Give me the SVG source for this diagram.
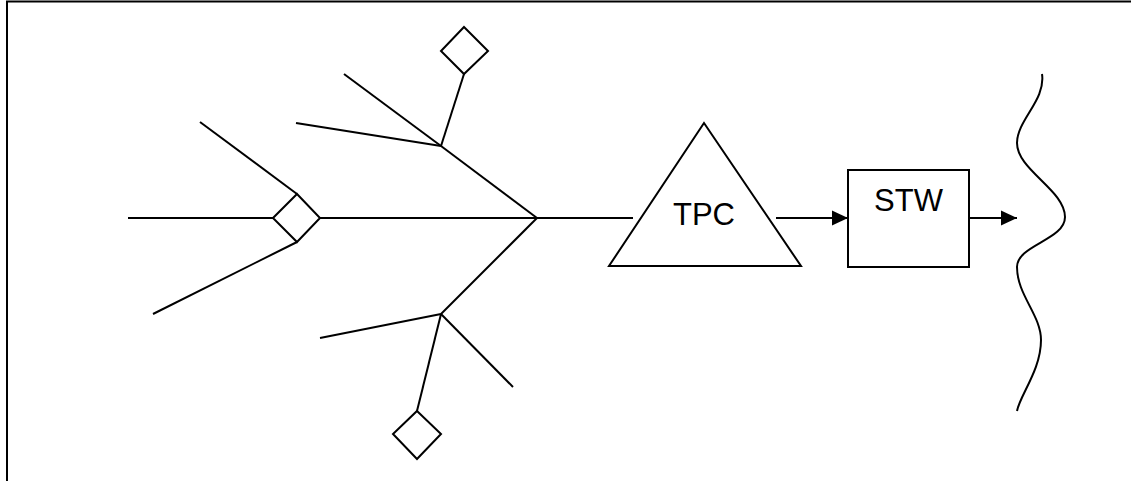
<svg xmlns="http://www.w3.org/2000/svg" width="1131" height="481" viewBox="0 0 1131 481">
<defs>
<style>
.ln{stroke:#000;stroke-width:2;fill:none;stroke-linecap:butt;stroke-linejoin:miter}
.shape{stroke:#000;stroke-width:2;fill:#fff}
.lbl{font-family:"Liberation Sans",Arial,sans-serif;font-size:31px;fill:#000;text-anchor:middle}
</style>
<marker id="arr" markerWidth="16" markerHeight="16" refX="16" refY="8" orient="auto" markerUnits="userSpaceOnUse" viewBox="0 0 16 16">
<path d="M0,0.5 L16,8 L0,15.5 z" fill="#000"/>
</marker>
</defs>
<rect width="1131" height="481" fill="#fff"/>
<g id="frame">
<path class="ln" d="M7,481 V1.5 H1131" stroke-width="2.5"/>
</g>
<g id="connectors">
<line class="ln" x1="128" y1="218" x2="273" y2="218"/>
<line class="ln" x1="200" y1="122" x2="297" y2="194"/>
<line class="ln" x1="153" y1="314" x2="297" y2="242"/>
<line class="ln" x1="320" y1="218" x2="537" y2="218"/>
<line class="ln" x1="512" y1="218" x2="537" y2="218"/>
<line class="ln" x1="441" y1="146" x2="537" y2="218"/>
<line class="ln" x1="344" y1="74" x2="441" y2="146"/>
<line class="ln" x1="296" y1="123" x2="441" y2="146"/>
<line class="ln" x1="464" y1="74" x2="441" y2="146"/>
<line class="ln" x1="537" y1="218" x2="441" y2="314"/>
<line class="ln" x1="320" y1="338" x2="441" y2="314"/>
<line class="ln" x1="441" y1="314" x2="513" y2="387"/>
<line class="ln" x1="441" y1="314" x2="417" y2="411"/>
<line class="ln" x1="537" y1="218" x2="633" y2="218"/>
<line class="ln" x1="776" y1="218" x2="848" y2="218" marker-end="url(#arr)" stroke-width="2.5"/>
<line class="ln" x1="969" y1="218" x2="1017" y2="218" marker-end="url(#arr)" stroke-width="2.5"/>
</g>
<g id="diamond-left">
<polygon class="shape" points="273,218 297,194 320,218 297,242"/>
</g>
<g id="diamond-top">
<polygon class="shape" points="464,27 488,51 464,74 441,51"/>
</g>
<g id="diamond-bottom">
<polygon class="shape" points="417,411 441,434 417,459 393,434"/>
</g>
<g id="tpc">
<polygon class="shape" points="704,123 801,266 609,266"/>
<text class="lbl" x="704" y="225">TPC</text>
</g>
<g id="stw">
<rect class="shape" x="848" y="170" width="121" height="97"/>
<text class="lbl" x="908.5" y="211">STW</text>
</g>
<g id="wave">
<path class="ln" d="M1042,74 C1046,100 1017,120 1017,143 C1017,170 1065,190 1065,217 C1065,240 1017,245 1017,267 C1017,295 1041,315 1041,340 C1041,370 1020,395 1017,411"/>
</g>
</svg>
